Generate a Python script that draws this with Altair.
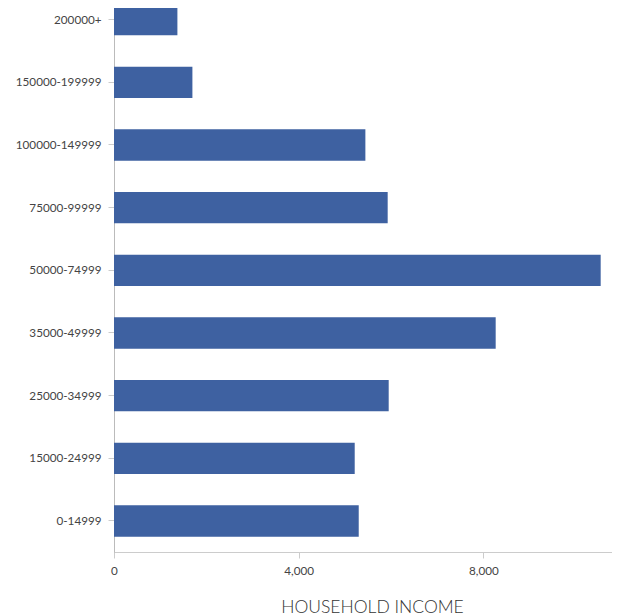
import altair as alt
import pandas as pd

categories = ["200000+", "150000-199999", "100000-149999", "75000-99999",
              "50000-74999", "35000-49999", "25000-34999", "15000-24999", "0-14999"]
values = [1373, 1698, 5444, 5927, 10540, 8266, 5949, 5213, 5300]
tick_values = [0, 4000, 8000]

df = pd.DataFrame({"bracket": categories, "households": values})

FONT = "Lato"

chart = alt.Chart(df).mark_bar(color="#3E61A1").encode(
    x=alt.X(
        "households:Q",
        title="HOUSEHOLD INCOME",
        scale=alt.Scale(domain=[0, 10785], nice=False, zero=True),
        axis=alt.Axis(
            values=tick_values,
            format=",.0f",
            grid=False,
            domainColor="#cccccc",
            tickColor="#cccccc",
            tickSize=6,
            labelFlush=False,
            labelFont=FONT,
            labelFontSize=11.7,
            labelColor="#444444",
            labelPadding=7,
            titleFont=FONT,
            titleFontSize=17.5,
            titleFontWeight=300,
            titleColor="#333333",
            titlePadding=22,
            titleX=258,
            titleAlign="center",
            titleAnchor="start",
        ),
    ),
    y=alt.Y(
        "bracket:N",
        sort=categories,
        title=None,
        scale=alt.Scale(range=[-19.7, 544.3], paddingInner=0.5, paddingOuter=0.25),
        axis=alt.Axis(
            grid=False,
            domainColor="#bbbbbb",
            tickColor="#cccccc",
            tickSize=6,
            labelFont=FONT,
            labelFontSize=11.7,
            labelColor="#444444",
            labelPadding=7,
        ),
    ),
).properties(
    width=498,
    height=544,
    autosize=alt.AutoSizeParams(type="none"),
    padding={"left": 106, "top": 0, "right": 0, "bottom": 64},
).configure_view(stroke=None)

chart.save("out.html", embed_options={"renderer": "svg", "actions": False})
